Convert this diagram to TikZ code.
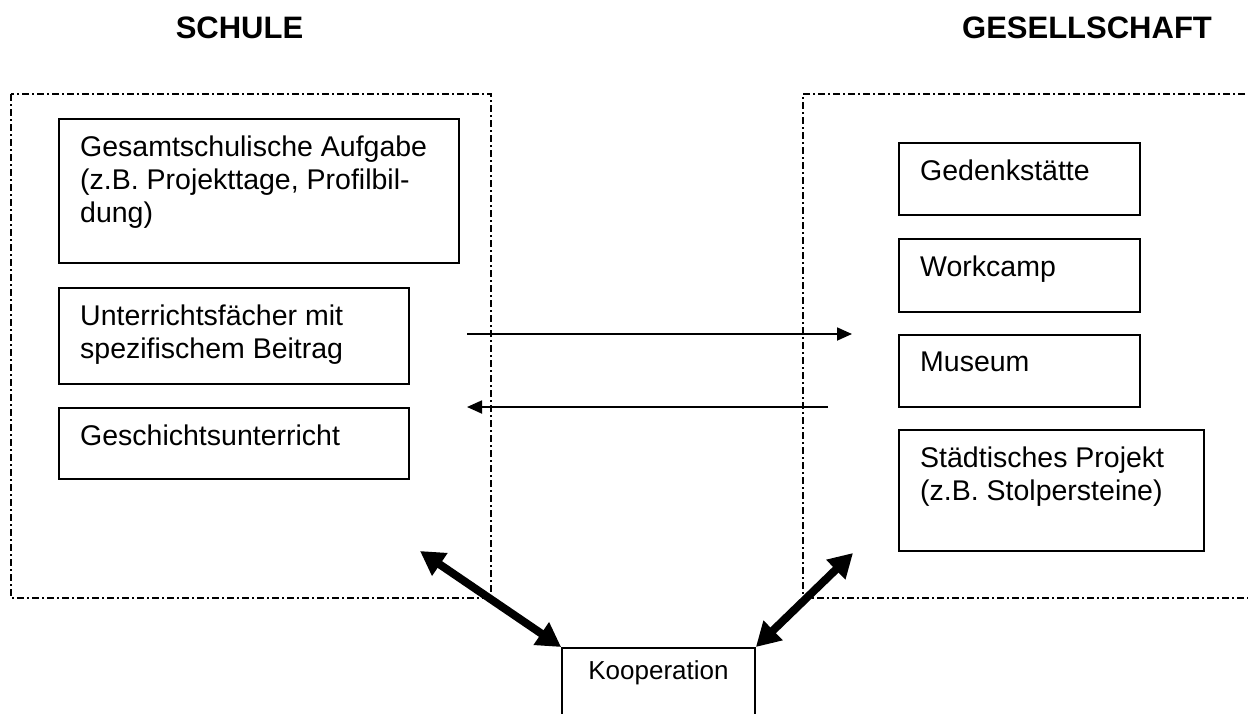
\documentclass[tikz,border=0pt]{standalone}
\usepackage{fontspec}
\setmainfont{Liberation Sans}
\usetikzlibrary{arrows.meta}
\begin{document}
\begin{tikzpicture}[x=1pt,y=-1pt,
  box/.style={draw, line width=1.8pt, inner sep=0pt, anchor=north west},
  txt/.style={inner sep=0pt, anchor=north west, align=left, font=\fontsize{28.5}{32.8}\selectfont},
  title/.style={inner sep=0pt, anchor=base, font=\fontsize{31}{36}\selectfont\bfseries},
  region/.style={line width=1.8pt, dash pattern=on 7pt off 3pt on 2pt off 3pt},
  flow/.style={line width=1.8pt, -{Triangle[length=15pt,width=13pt]}},
  link/.style={line width=8pt, {Triangle[length=24pt,width=26pt]}-{Triangle[length=24pt,width=26pt]}}
]
\useasboundingbox (0,0) rectangle (1248,713);
\clip (0,0) rectangle (1248,713);

% headings
\node[title] (tSchule) at (239.5,38) {SCHULE};
\node[title] (tGes) at (1087,38) {GESELLSCHAFT};

% the two dash-dotted areas
\draw[region] (11,94) rectangle (491,598);
\draw[region] (1260,94) -- (803,94) -- (803,598) -- (1260,598);

% school side
\node[box, minimum width=400pt, minimum height=144pt] (b1) at (58,118) {};
\node[txt] (b1t) at ([xshift=22pt,yshift=-18pt]b1.north west)
  {Gesamtschulische Aufgabe\\(z.B. Projekttage, Profilbil-\\dung)};
\node[box, minimum width=350pt, minimum height=96pt] (b2) at (58,287) {};
\node[txt] (b2t) at ([xshift=22pt,yshift=-18pt]b2.north west)
  {Unterrichtsfächer mit\\spezifischem Beitrag};
\node[box, minimum width=350pt, minimum height=71pt] (b3) at (58,407) {};
\node[txt] (b3t) at ([xshift=22pt,yshift=-18pt]b3.north west)
  {Geschichtsunterricht};

% society side
\node[box, minimum width=241pt, minimum height=72pt] (r1) at (898,142) {};
\node[txt] (r1t) at ([xshift=22pt,yshift=-18pt]r1.north west) {Gedenkstätte};
\node[box, minimum width=241pt, minimum height=73pt] (r2) at (898,238) {};
\node[txt] (r2t) at ([xshift=22pt,yshift=-18pt]r2.north west) {Workcamp};
\node[box, minimum width=241pt, minimum height=72pt] (r3) at (898,334) {};
\node[txt] (r3t) at ([xshift=22pt,yshift=-18pt]r3.north west) {Museum};
\node[box, minimum width=305pt, minimum height=121pt] (r4) at (898,429) {};
\node[txt] (r4t) at ([xshift=22pt,yshift=-18pt]r4.north west)
  {Städtisches Projekt\\(z.B. Stolpersteine)};

% cooperation box, running off the lower edge
\node[box, anchor=north, minimum width=193pt, minimum height=100pt] (koop) at (658.5,647) {};
\node[inner sep=0pt, font=\fontsize{26}{30}\selectfont] (koopt) at ([yshift=-26pt]koop.north) {Kooperation};

% exchange arrows
\coordinate (sOut) at (467,334);
\coordinate (gIn) at (852,334);
\coordinate (gOut) at (828,407);
\coordinate (sIn) at (467,407);
\draw[flow] (sOut) -- (gIn);
\draw[flow] (gOut) -- (sIn);

% cooperation links
\coordinate (sLink) at (420,551);
\coordinate (gLink) at (853,553);
\draw[link] (sLink) -- (koop.north west);
\draw[link] (gLink) -- (koop.north east);
\end{tikzpicture}
\end{document}
